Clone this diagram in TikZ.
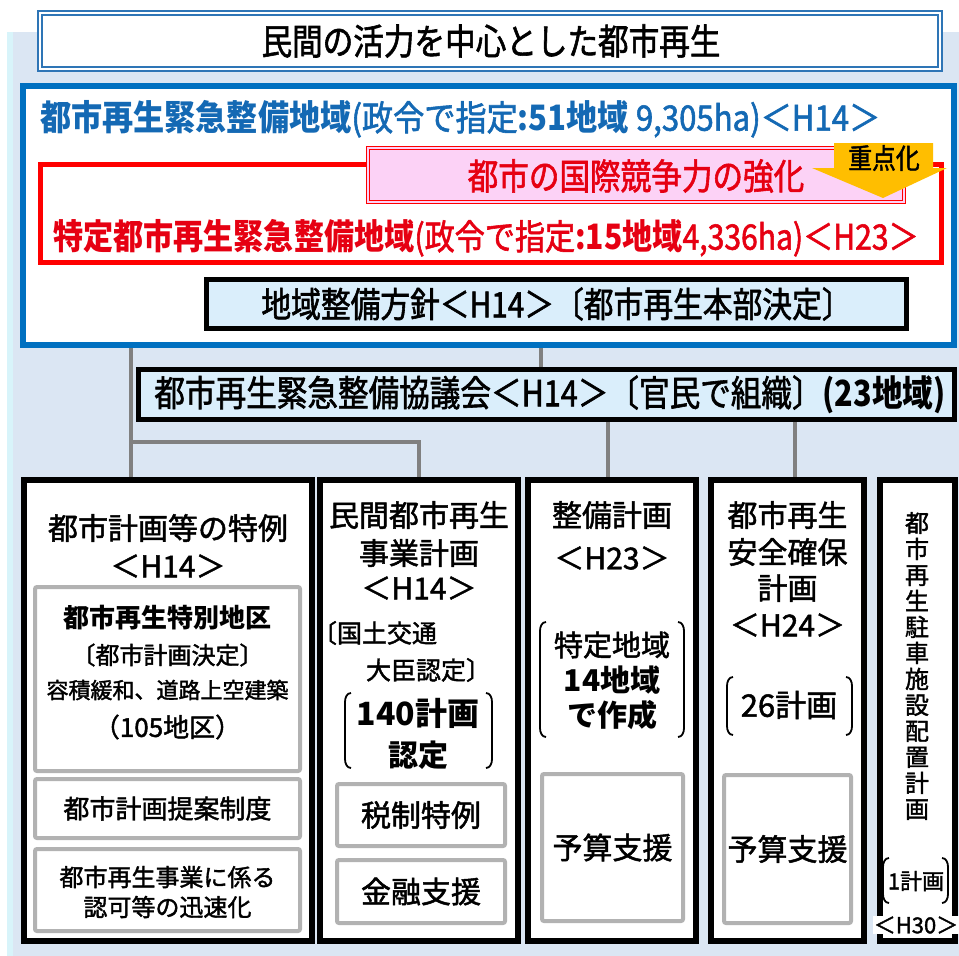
\documentclass[tikz,border=0pt]{standalone}
\usepackage{fontspec}
\setmainfont{Noto Sans CJK JP}[UprightFeatures={FakeBold=1.6}]
\newfontfamily\cnd{Noto Sans CJK JP}[FakeStretch=0.85, UprightFeatures={FakeBold=1.6}]
\newfontfamily\cndr{Noto Sans CJK JP}[FakeStretch=0.86, UprightFeatures={FakeBold=1.6}]
\newfontfamily\cndb{Noto Sans CJK JP}[FakeStretch=0.89, UprightFeatures={FakeBold=1.6}]
\usetikzlibrary{calc}
\definecolor{bgc}{RGB}{219,230,243}
\definecolor{stripc}{RGB}{216,244,250}
\definecolor{titleblue}{RGB}{46,117,182}
\definecolor{bluebox}{RGB}{0,112,192}
\definecolor{bluetext}{RGB}{20,105,180}
\definecolor{redbox}{RGB}{255,0,0}
\definecolor{redtext}{RGB}{230,0,18}
\definecolor{pinkfill}{RGB}{252,210,246}
\definecolor{lightfill}{RGB}{218,238,251}
\definecolor{connc}{RGB}{128,128,128}
\definecolor{gboxc}{RGB}{178,178,178}
\definecolor{arrowc}{RGB}{255,190,0}
\newcommand\fsz[1]{\fontsize{#1}{#1}\selectfont}
\pgfdeclarelayer{bg}
\pgfsetlayers{bg,main}
\tikzset{
  every node/.style={inner sep=0pt, outer sep=0pt},
  colbox/.style={draw=black, line width=6pt, fill=white},
  gbox/.style={draw=gboxc, line width=4pt, fill=white, rounded corners=2pt},
  hbox/.style={draw=black, line width=5pt, fill=lightfill},
  conn/.style={draw=connc, line width=4pt},
  brk/.style={draw=black, line width=1.8pt},
  txt/.style={text=black},
}
\newcommand\lbrk[3]{\draw[brk] (#1+6,#2) to[out=180,in=90] (#1,#2+9) -- (#1,#3-9) to[out=-90,in=180] (#1+6,#3);}
\newcommand\rbrk[3]{\draw[brk] (#1-6,#2) to[out=0,in=90] (#1,#2+9) -- (#1,#3-9) to[out=-90,in=0] (#1-6,#3);}
\begin{document}
\begin{tikzpicture}[x=1pt,y=-1pt]
\useasboundingbox (0,0) rectangle (959,956);

% title
\node[draw=titleblue, double=white, line width=2pt, double distance=2pt, fill=white,
      minimum width=900pt, minimum height=56pt] (title) at (490,41) {};
\node[txt, font=\cnd\fsz{36}] (titletext) at (491,41) {民間の活力を中心とした都市再生};

% blue region
\node[draw=bluebox, line width=6pt, fill=white, minimum width=931pt, minimum height=259pt] (blue) at (488.5,215.5) {};
\node[anchor=west, text=bluetext, font=\cndb\fsz{35}] (bluetxt) at (40,119)
  {\textbf{都市再生緊急整備地域}(政令で指定\textbf{:51地域} 9,305ha)＜H14＞};

% red region
\node[draw=redbox, line width=5pt, fill=white, minimum width=901pt, minimum height=98pt] (red) at (491,213.5) {};
\node[draw=redbox, double=pinkfill, line width=1.2pt, double distance=2pt, fill=pinkfill,
      minimum width=536pt, minimum height=54pt] (pink) at (636,175) {};
\node[text=redtext, font=\cnd\fsz{36}] (pinktxt) at (636,176) {都市の国際競争力の強化};
\fill[arrowc] (834,143) -- (933,143) -- (933,168) -- (947,168) -- (883,198) -- (812,168) -- (834,168) -- cycle;
\node[txt, font=\cnd\fsz{28}] (focus) at (884,158) {重点化};
\node[text=redtext, font=\cndr\fsz{35}] (redtxt) at (486,238)
  {\textbf{特定都市再生緊急整備地域}(政令で指定\textbf{:15地域}4,336ha)＜H23＞};

% policy & council
\node[hbox, minimum width=700pt, minimum height=49pt] (policy) at (556.5,304) {};
\node[txt, font=\cnd\fsz{35}] (policytxt) at (556.5,304) {地域整備方針＜H14＞〔都市再生本部決定〕};
\node[hbox, minimum width=816pt, minimum height=50pt] (council) at (546.5,394.5) {};
\node[txt, font=\cnd\fsz{36}] (counciltxt) at (550,394.5) {都市再生緊急整備協議会＜H14＞〔官民で組織〕\textbf{(23地域)}};

% columns
\node[colbox, minimum width=288pt, minimum height=461pt] (col1) at (168,710.5) {};
\node[colbox, minimum width=198pt, minimum height=461pt] (col2) at (419,710.5) {};
\node[colbox, minimum width=168pt, minimum height=461pt] (col3) at (612,710.5) {};
\node[colbox, minimum width=153pt, minimum height=461pt] (col4) at (787.5,710.5) {};
\node[colbox, minimum width=75pt, minimum height=461pt] (col5) at (917.5,710.5) {};

% col1
\node[txt, font=\fsz{30}] (c1a) at (168,528) {都市計画等の特例};
\node[txt, font=\fsz{30}] (c1b) at (168,566) {＜H14＞};
\node[gbox, minimum width=265pt, minimum height=184pt] (c1box1) at (167.5,679) {};
\node[txt, font=\fsz{26}\bfseries] (c1c) at (167.5,618) {都市再生特別地区};
\node[txt, font=\fsz{24}] (c1d) at (167.5,655) {〔都市計画決定〕};
\node[txt, font=\fsz{22}] (c1e) at (167.5,690) {容積緩和、道路上空建築};
\node[txt, font=\fsz{26}] (c1f) at (167.5,727) {（105地区）};
\node[gbox, minimum width=265pt, minimum height=59pt, font=\fsz{26}] (c1box2) at (167.5,808.5) {都市計画提案制度};
\node[gbox, minimum width=265pt, minimum height=82pt] (c1box3) at (167.5,890) {};
\node[txt, font=\fsz{24}] (c1g) at (167.5,877) {都市再生事業に係る};
\node[txt, font=\fsz{24}] (c1h) at (167.5,907) {認可等の迅速化};

% col2
\node[txt, font=\fsz{30}] (c2a) at (419,515) {民間都市再生};
\node[txt, font=\fsz{30}] (c2b) at (419,553) {事業計画};
\node[txt, font=\fsz{30}] (c2c) at (419,588) {＜H14＞};
\node[txt, font=\fsz{25}, anchor=west] (c2d) at (312,633) {〔国土交通};
\node[txt, font=\fsz{25}, anchor=west] (c2e) at (366,670) {大臣認定〕};
\node[txt, font=\fsz{32}\bfseries] (c2f) at (418,713) {140計画};
\node[txt, font=\fsz{30}\bfseries] (c2g) at (418,755) {認定};
\lbrk{345}{693}{768}
\rbrk{492}{693}{768}
\node[gbox, minimum width=168pt, minimum height=62pt, font=\fsz{30}] (c2box1) at (421,815) {税制特例};
\node[gbox, minimum width=168pt, minimum height=63pt, font=\fsz{30}] (c2box2) at (421,891.5) {金融支援};

% col3
\node[txt, font=\fsz{30}] (c3a) at (612,515) {整備計画};
\node[txt, font=\fsz{30}] (c3b) at (612,558) {＜H23＞};
\node[txt, font=\fsz{29}] (c3c) at (612,645) {特定地域};
\node[txt, font=\fsz{30}\bfseries] (c3d) at (612,680) {14地域};
\node[txt, font=\fsz{30}\bfseries] (c3e) at (612,715) {で作成};
\lbrk{540}{622}{737}
\rbrk{684}{622}{737}
\node[gbox, minimum width=141pt, minimum height=147pt, font=\fsz{30}] (c3box) at (612.5,847.5) {予算支援};

% col4
\node[txt, font=\fsz{30}] (c4a) at (787.5,515) {都市再生};
\node[txt, font=\fsz{30}] (c4b) at (787.5,552) {安全確保};
\node[txt, font=\fsz{30}] (c4c) at (787.5,588) {計画};
\node[txt, font=\fsz{30}] (c4d) at (787.5,625) {＜H24＞};
\node[txt, font=\fsz{31}] (c4e) at (789,705) {26計画};
\lbrk{727}{677}{735}
\rbrk{852}{677}{735}
\node[gbox, minimum width=127pt, minimum height=148pt, font=\fsz{30}] (c4box) at (787.5,849) {予算支援};

% col5
\node[txt, font=\fontsize{24}{26}\selectfont, align=center] (c5a) at (917,666)
  {都\\市\\再\\生\\駐\\車\\施\\設\\配\\置\\計\\画};
\node[txt, font=\fsz{22}] (c5b) at (916,881) {1計画};
\lbrk{883}{858}{903}
\rbrk{948}{858}{903}
\node[txt, font=\fsz{22}, fill=white, inner sep=0.5pt] (c5c) at (916,925) {＜H30＞};

\begin{pgfonlayer}{bg}
\fill[bgc] (7,32) rectangle (959,956);
\fill[stripc] (7,32) rectangle (13,956);
\coordinate (j1) at (131,442);
\coordinate (x1) at (541,0);
\coordinate (x3) at (608,0);
\coordinate (x4) at (795,0);
\draw[conn] (blue.south -| j1) -- (col1.north -| j1);
\draw[conn] (j1) -| (col2.north);
\draw[conn] (policy.south -| x1) -- (council.north -| x1);
\draw[conn] (council.south -| x3) -- (col3.north -| x3);
\draw[conn] (council.south -| x4) -- (col4.north -| x4);
\end{pgfonlayer}
\end{tikzpicture}
\end{document}
